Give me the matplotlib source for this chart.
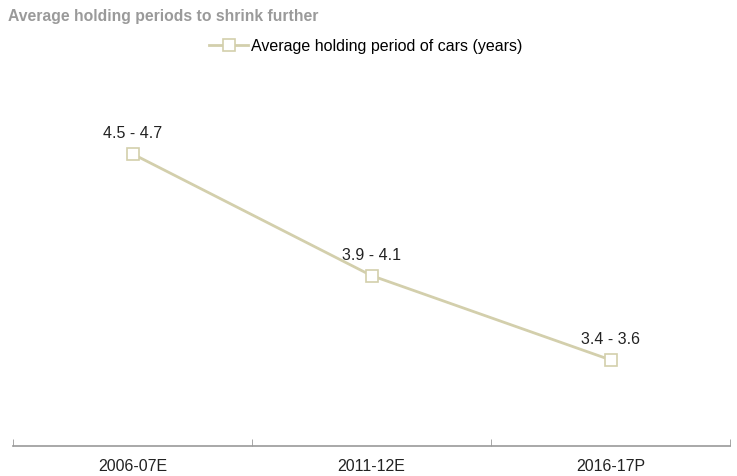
import matplotlib.pyplot as plt
import numpy as np

# Data
periods = ['2006-07E', '2011-12E', '2016-17P']
holding_mid = [4.6, 3.95, 3.5]          # midpoints of the ranges (years)
range_labels = ['4.5 - 4.7', '3.9 - 4.1', '3.4 - 3.6']

line_color = '#d3cfac'
plt.rcParams['font.family'] = ['Liberation Sans', 'DejaVu Sans']

fig = plt.figure(figsize=(7.37, 4.77), dpi=100)
ax = fig.add_axes([13 / 737, 1 - 447 / 477, 717 / 737, 367 / 477])

x = np.arange(len(periods))
ax.plot(x, holding_mid, color=line_color, linewidth=2, marker='s', markersize=8,
        markerfacecolor='white', markeredgecolor=line_color, markeredgewidth=1.2,
        label='Average holding period of cars (years)')

# range labels above each point
for xi, yi, lab in zip(x, holding_mid, range_labels):
    ax.annotate(lab, (xi, yi), xytext=(0, 10), textcoords='offset points',
                ha='center', va='bottom', fontsize=11.5, color='#222222')

ax.set_xlim(-0.5, 2.5)
ax.set_ylim(3.04, 5.0)
ax.set_xticks(x)
ax.set_xticklabels(periods, fontsize=11.5, color='#222222')
ax.set_xticks([-0.5, 0.5, 1.5, 2.5], minor=True)
ax.tick_params(axis='x', which='major', length=0, pad=9)
ax.tick_params(axis='x', which='minor', length=5, color='#999999', direction='in')
ax.set_yticks([])
for side in ['top', 'right', 'left']:
    ax.spines[side].set_visible(False)
ax.spines['bottom'].set_color('#999999')
ax.spines['bottom'].set_linewidth(1.2)

fig.text(8 / 737, 1 - 17 / 477, 'Average holding periods to shrink further',
         fontsize=11.3, fontweight='bold', color='#9a9a9a', va='center', ha='left')

ax.legend(loc='center left', bbox_to_anchor=(203 / 737, 1 - 47 / 477),
          bbox_transform=fig.transFigure, frameon=False, fontsize=11.5,
          handlelength=2.4, handletextpad=0.2, borderaxespad=0)

fig.savefig('out.png', dpi=100)
